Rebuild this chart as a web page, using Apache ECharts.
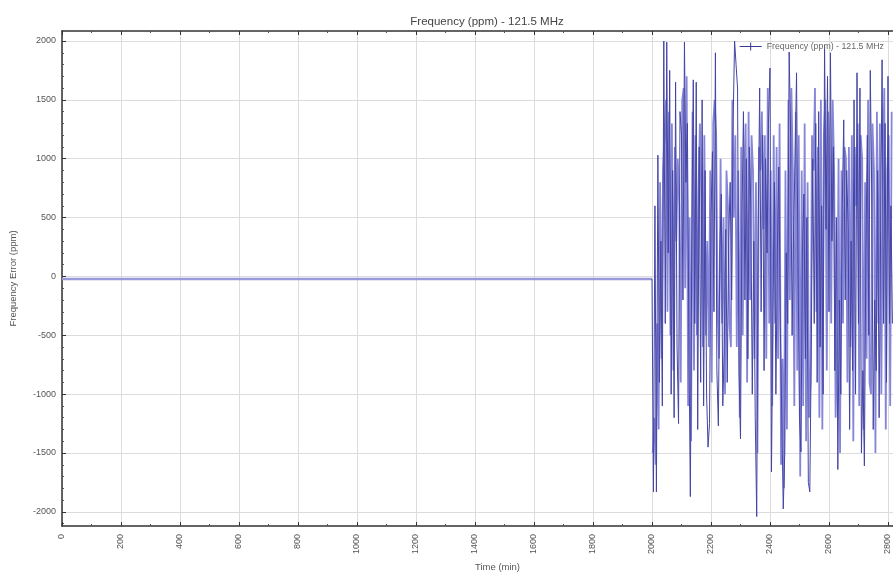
<!DOCTYPE html>
<html>
<head>
<meta charset="utf-8">
<script src="https://cdn.jsdelivr.net/npm/echarts@6/dist/echarts.min.js"></script>
<style>html,body{margin:0;padding:0;background:#fff}#c{width:893px;height:577px}</style>
</head>
<body>
<div id="c"></div>
<script>
const titleText = 'Frequency (ppm) - 121.5 MHz';
const seriesName = 'Frequency (ppm) - 121.5 MHz';
const yTicks = [-2000, -1500, -1000, -500, 0, 500, 1000, 1500, 2000];
const yMinorTicks = [-2100,-1900,-1800,-1700,-1600,-1400,-1300,-1200,-1100,-900,-800,-700,-600,-400,-300,-200,-100,100,200,300,400,600,700,800,900,1100,1200,1300,1400,1600,1700,1800,1900];
const flatTimes = [0, 2000];
const flatValues = [-22, -22];
const noiseTimes = [2000,2005,2010,2015,2020,2025,2030,2035,2040,2045,2050,2055,2060,2065,2070,2075,2080,2085,2090,2095,2100,2105,2110,2115,2120,2125,2130,2135,2140,2145,2150,2155,2160,2165,2170,2175,2180,2185,2190,2195,2200,2205,2210,2215,2220,2225,2230,2235,2240,2245,2250,2255,2260,2265,2270,2275,2280,2285,2290,2295,2300,2305,2310,2315,2320,2325,2330,2335,2340,2345,2350,2355,2360,2365,2370,2375,2380,2385,2390,2395,2400,2405,2410,2415,2420,2425,2430,2435,2440,2445,2450,2455,2460,2465,2470,2475,2480,2485,2490,2495,2500,2505,2510,2515,2520,2525,2530,2535,2540,2545,2550,2555,2560,2565,2570,2575,2580,2585,2590,2595,2600,2605,2610,2615,2620,2625,2630,2635,2640,2645,2650,2655,2660,2665,2670,2675,2680,2685,2690,2695,2700,2705,2710,2715,2720,2725,2730,2735,2740,2745,2750,2755,2760,2765,2770,2775,2780,2785,2790,2795,2800,2805,2810,2815];
const noiseValues = [-22,-1830,600,-1830,1030,-900,300,-1100,2000,-400,1990,200,1750,-1000,900,-1200,1650,-600,-1250,1400,1200,-200,1990,800,1300,-500,-1870,300,1670,-400,1650,-1300,1100,-900,1500,-1100,900,-1000,-1450,-1250,500,1060,-300,1900,-800,-1270,200,700,-1100,-600,400,-900,300,800,-200,1300,2000,1800,1600,-800,-1380,500,1400,-200,1000,-700,1100,600,-1000,300,-1200,-2040,400,1600,-300,1200,-800,1000,200,1300,1770,-1660,-300,800,-1000,200,930,-400,-1200,-1975,-1500,200,-400,1907,1200,-500,400,1000,1730,100,-1200,-1490,200,700,-700,500,-1750,-1830,-600,1000,-400,1300,-900,1400,-600,600,-1000,1966,400,1700,-300,1900,300,1100,-800,500,-1640,-200,-1000,600,1330,-200,900,400,-1300,300,-800,1500,-1000,1730,-400,1600,-1500,-800,-1610,200,1200,-500,1750,700,-1300,-200,-800,900,-1200,400,1840,-400,1300,-900,1700,-400,600,-400];
const midTimes = [2002.5,2007.5,2012.5,2017.5,2022.5,2027.5,2032.5,2037.5,2042.5,2047.5,2052.5,2057.5,2062.5,2067.5,2072.5,2077.5,2082.5,2087.5,2092.5,2097.5,2102.5,2107.5,2112.5,2117.5,2122.5,2127.5,2132.5,2137.5,2142.5,2147.5,2152.5,2157.5,2162.5,2167.5,2172.5,2177.5,2182.5,2187.5,2192.5,2197.5,2202.5,2207.5,2212.5,2217.5,2222.5,2227.5,2232.5,2237.5,2242.5,2247.5,2252.5,2257.5,2262.5,2267.5,2272.5,2277.5,2282.5,2287.5,2292.5,2297.5,2302.5,2307.5,2312.5,2317.5,2322.5,2327.5,2332.5,2337.5,2342.5,2347.5,2352.5,2357.5,2362.5,2367.5,2372.5,2377.5,2382.5,2387.5,2392.5,2397.5,2402.5,2407.5,2412.5,2417.5,2422.5,2427.5,2432.5,2437.5,2442.5,2447.5,2452.5,2457.5,2462.5,2467.5,2472.5,2477.5,2482.5,2487.5,2492.5,2497.5,2502.5,2507.5,2512.5,2517.5,2522.5,2527.5,2532.5,2537.5,2542.5,2547.5,2552.5,2557.5,2562.5,2567.5,2572.5,2577.5,2582.5,2587.5,2592.5,2597.5,2602.5,2607.5,2612.5,2617.5,2622.5,2627.5,2632.5,2637.5,2642.5,2647.5,2652.5,2657.5,2662.5,2667.5,2672.5,2677.5,2682.5,2687.5,2692.5,2697.5,2702.5,2707.5,2712.5,2717.5,2722.5,2727.5,2732.5,2737.5,2742.5,2747.5,2752.5,2757.5,2762.5,2767.5,2772.5,2777.5,2782.5,2787.5,2792.5,2797.5,2802.5,2807.5,2812.5];
const midValues = [-1500,-1200,-1600,-400,-1300,800,-700,900,1200,1500,-300,1400,-500,1300,-800,1100,300,1000,600,-900,1500,1600,-100,1700,-1100,500,-1400,1400,-800,1200,-500,700,1300,600,-600,1200,-500,300,-600,900,-900,1300,1500,1200,-300,-700,1000,-400,500,-1000,900,600,-400,-600,1500,500,1200,-600,900,-1200,1100,-500,800,1300,-900,1400,-200,1200,900,-700,800,-1500,1100,900,1400,400,1200,-700,1600,-400,900,-1100,1200,-400,1100,-700,1300,-1600,-700,-1800,900,-1300,1500,-200,1600,900,-1100,1400,-800,1200,-1700,900,-1100,1300,-1400,800,-1200,-900,1200,900,1600,-300,1100,-1200,1500,-1300,1200,1500,-800,1400,1000,-400,1500,900,-1200,-600,1000,-1500,900,-400,1100,1000,-900,1100,-600,1200,-1400,1100,600,1300,-1100,1200,1000,-1300,800,-700,1500,-900,-1000,1300,900,-1500,1400,-400,1300,-1000,800,1600,-1300,900,1200,-1100,1400];

const flatData = flatTimes.map((t, i) => [t, flatValues[i]]);
const noiseData = noiseTimes.map((t, i) => [t, noiseValues[i]]);
const midData = midTimes.map((t, i) => [t, midValues[i]]);

const X_MIN = 0, X_MAX = 2817, Y_MIN = -2120, Y_MAX = 2085;
const FF = 'Liberation Sans, Arial, sans-serif';
const lblFont = {fontFamily: FF, fontSize: 9, color: '#555'};
const legendIcon = 'path://M0,3.5h22v1h-22z M10.5,0h1v8h-1z';

const chart = echarts.init(document.getElementById('c'), null, {renderer: 'canvas'});
chart.setOption({
  animation: false,
  backgroundColor: '#fff',
  title: {
    text: titleText, left: 482, top: 11, textAlign: 'center',
    textStyle: {fontFamily: FF, fontSize: 11.5, fontWeight: 'normal', color: '#444'}
  },
  legend: {
    data: [{name: seriesName, icon: legendIcon}], right: 4, top: 37, itemWidth: 22, itemHeight: 8, itemGap: 4,
    textStyle: {fontFamily: FF, fontSize: 8.8, color: '#666'}
  },
  grid: {left: 62, right: 0, top: 31, bottom: 50, containLabel: false},
  xAxis: [{
    type: 'value', min: X_MIN, max: X_MAX, interval: 200, position: 'bottom',
    name: 'Time (min)', nameLocation: 'middle', nameGap: 36,
    nameTextStyle: Object.assign({}, lblFont, {fontSize: 9.5, padding: [0, 0, 0, 40]}),
    axisLine: {show: true, onZero: false, lineStyle: {color: '#333', width: 1.5}},
    axisTick: {show: true, inside: true, length: 4, lineStyle: {color: '#333'}},
    minorTick: {show: true, splitNumber: 2, length: 2, lineStyle: {color: '#555'}},
    axisLabel: Object.assign({}, lblFont, {rotate: 90, margin: 8, showMaxLabel: false, formatter: v => String(v)}),
    splitLine: {show: true, lineStyle: {color: '#dcdcdc', width: 1}}
  }, {
    type: 'value', min: X_MIN, max: X_MAX, interval: 200, position: 'top',
    axisLine: {show: true, onZero: false, lineStyle: {color: '#333', width: 1.5}},
    axisTick: {show: true, inside: true, length: 4, lineStyle: {color: '#333'}},
    minorTick: {show: true, splitNumber: 2, length: 2, lineStyle: {color: '#555'}},
    axisLabel: {show: false}, splitLine: {show: false}
  }],
  yAxis: [{
    type: 'value', min: Y_MIN, max: Y_MAX, position: 'left',
    name: 'Frequency Error (ppm)', nameLocation: 'middle', nameGap: 44, nameRotate: 90,
    nameTextStyle: Object.assign({}, lblFont, {fontSize: 9.5}),
    axisLine: {show: true, onZero: false, lineStyle: {color: '#333', width: 1.5}},
    axisTick: {show: true, inside: true, length: 4, customValues: yTicks, lineStyle: {color: '#333'}},
    axisLabel: Object.assign({}, lblFont, {margin: 6, customValues: yTicks, formatter: v => String(v)}),
    splitLine: {show: true, lineStyle: {color: '#dcdcdc', width: 1}}
  }, {
    type: 'value', min: Y_MIN, max: Y_MAX, position: 'left', offset: 0,
    axisLine: {show: false, onZero: false},
    axisTick: {show: true, inside: true, length: 2, customValues: yMinorTicks, lineStyle: {color: '#555'}},
    axisLabel: {show: false, customValues: yMinorTicks},
    splitLine: {show: false}
  }],
  series: [{
    name: seriesName, type: 'line', data: flatData, xAxisIndex: 0, yAxisIndex: 0,
    showSymbol: false, symbol: 'none', lineStyle: {color: '#9898da', width: 2.5}, itemStyle: {color: '#3a3a96'}
  }, {
    name: seriesName, type: 'line', data: midData, xAxisIndex: 0, yAxisIndex: 0,
    showSymbol: false, symbol: 'none', lineStyle: {color: '#8686d8', width: 1.8}, itemStyle: {color: '#3a3a96'}
  }, {
    name: seriesName, type: 'line', data: noiseData, xAxisIndex: 0, yAxisIndex: 0,
    showSymbol: false, symbol: 'none', lineStyle: {color: '#4444a4', width: 1}, itemStyle: {color: '#3a3a96'}
  }]
});
</script>
</body>
</html>
